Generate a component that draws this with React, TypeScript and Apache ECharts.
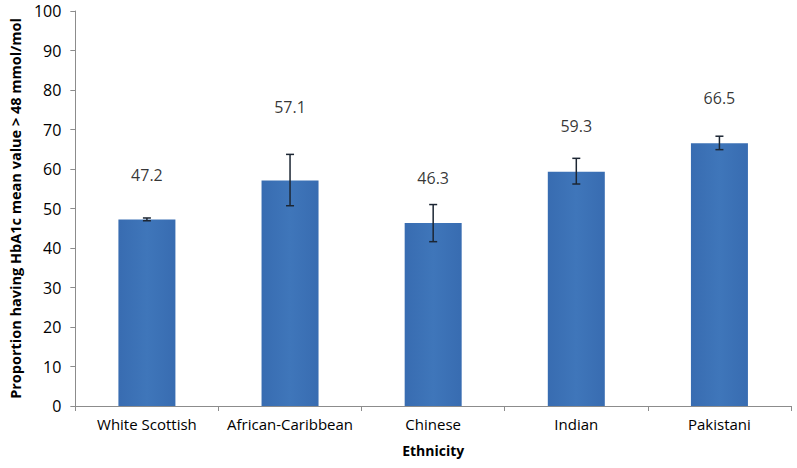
import React, { useEffect, useRef } from "react";
import * as echarts from "echarts";

const categories = ["White Scottish", "African-Caribbean", "Chinese", "Indian", "Pakistani"];
const values = [47.2, 57.1, 46.3, 59.3, 66.5];
const errLow = [46.9, 50.7, 41.6, 56.2, 64.9];
const errHigh = [47.6, 63.7, 51.0, 62.7, 68.3];
const labelPos = [58.6, 75.8, 57.7, 70.9, 78.0];

const FONT = "Open Sans";

export default function App() {
  const ref = useRef<HTMLDivElement>(null);
  useEffect(() => {
    document.body.style.margin = "0";
    if (!ref.current) return;
    const chart = echarts.init(ref.current, undefined, { renderer: "svg" });
    chart.setOption({
      animation: false,
      backgroundColor: "#ffffff",
      grid: { left: 71, right: 6, top: 11, bottom: 62, containLabel: false },
      xAxis: {
        type: "category",
        data: categories,
        name: "Ethnicity",
        nameLocation: "middle",
        nameGap: 37,
        nameTextStyle: { fontFamily: FONT, fontSize: 14, fontWeight: "bold", color: "#000" },
        axisLine: { lineStyle: { color: "#8c8c8c", width: 1 } },
        axisTick: { show: true, alignWithLabel: false, length: 5, lineStyle: { color: "#8c8c8c" } },
        axisLabel: { fontFamily: FONT, fontSize: 15, color: "#000", margin: 10, interval: 0 },
      },
      yAxis: {
        type: "value",
        min: 0,
        max: 100,
        interval: 10,
        name: "Proportion having HbA1c mean value > 48 mmol/mol",
        nameLocation: "middle",
        nameRotate: 90,
        nameGap: 50,
        nameTextStyle: { fontFamily: FONT, fontSize: 14.5, fontWeight: "bold", color: "#000" },
        axisLine: { show: true, lineStyle: { color: "#8c8c8c", width: 1 } },
        axisTick: { show: true, length: 5, lineStyle: { color: "#8c8c8c" } },
        splitLine: { show: false },
        axisLabel: { fontFamily: FONT, fontSize: 16, color: "#000", margin: 14 },
      },
      series: [
        {
          type: "bar",
          data: values,
          barWidth: 57,
          itemStyle: {
            color: new echarts.graphic.LinearGradient(0, 0, 1, 0, [
              { offset: 0, color: "#386cb1" },
              { offset: 0.5, color: "#3f76ba" },
              { offset: 1, color: "#386cb1" },
            ]),
          },
        },
        {
          type: "custom",
          data: categories.map((c, i) => [i, errLow[i], errHigh[i]]),
          renderItem: (params: any, api: any) => {
            const x = api.value(0);
            const lo = api.coord([x, api.value(1)]);
            const hi = api.coord([x, api.value(2)]);
            const hw = 4;
            const style = { stroke: "#1c2633", lineWidth: 1.5 };
            return {
              type: "group",
              children: [
                { type: "line", shape: { x1: lo[0], y1: lo[1], x2: hi[0], y2: hi[1] }, style },
                { type: "line", shape: { x1: lo[0] - hw, y1: lo[1], x2: lo[0] + hw, y2: lo[1] }, style },
                { type: "line", shape: { x1: hi[0] - hw, y1: hi[1], x2: hi[0] + hw, y2: hi[1] }, style },
              ],
            };
          },
          z: 5,
        },
        {
          type: "scatter",
          symbolSize: 0,
          data: categories.map((c, i) => [i, labelPos[i]]),
          label: {
            show: true,
            position: "inside",
            fontFamily: FONT,
            fontSize: 16,
            color: "#000",
            formatter: (p: any) => values[p.dataIndex].toFixed(1),
          },
          silent: true,
          z: 6,
        },
      ],
    });
    return () => chart.dispose();
  }, []);
  return <div ref={ref} style={{ width: 797, height: 468 }} />;
}
